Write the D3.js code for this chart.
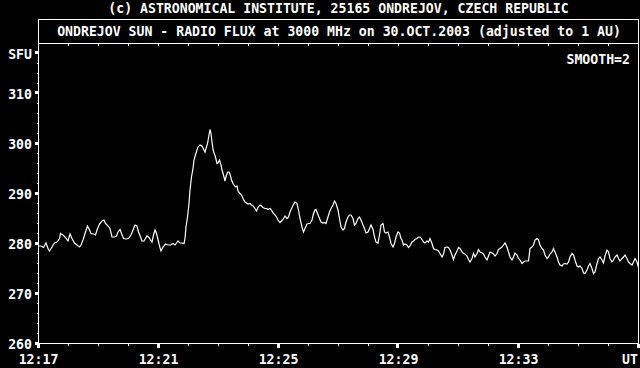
<!DOCTYPE html>
<html><head><meta charset="utf-8">
<script src="https://cdn.jsdelivr.net/npm/d3@7"></script>
<style>html,body{margin:0;padding:0;background:#000;}svg{display:block;}</style>
</head><body>
<svg id="chart" width="640" height="368"></svg>
<script>
const creditText = "(c) ASTRONOMICAL INSTITUTE, 25165 ONDREJOV, CZECH REPUBLIC";
const titleText = "ONDREJOV SUN - RADIO FLUX at 3000 MHz on 30.OCT.2003 (adjusted to 1 AU)";
const noteText = "SMOOTH=2";
const yUnitLabel = "SFU";
const yTickValues = [260, 270, 280, 290, 300, 310];
const xTickSeconds = [0, 240, 480, 720, 960, 1200];
const xTickLabels = ["12:17", "12:21", "12:25", "12:29", "12:33", "UT"];

// seconds after 12:17:00 UT
const seconds = [
0,5,10,15,19,22,27,32,37,42,44,49,53,59,63,67,72,77,82,85,89,93,98,102,105,110,114,117,122,127,131,134,139,143,147,152,156,159,163,166,170,175,180,185,189,193,197,200,204,207,211,214,217,221,224,227,230,233,236,239,242,245,
246,249,254,259,264,269,273,276,279,283,286,291,293,295,298,301,303,306,309,311,314,317,319,323,327,331,333,335,338,341,343,345,347,349,351,354,357,359,362,365,367,370,373,375,378,381,383,386,389,391,394,397,399,403,406,409,413,416,419,423,426,429,433,436,439,443,446,449,453,456,459,463,466,469,473,476,479,483,486,489,
493,497,500,503,507,510,513,517,520,523,527,530,533,537,540,543,547,550,553,555,558,562,565,569,572,575,579,582,585,589,592,595,599,602,605,609,612,615,619,622,625,629,632,635,639,642,645,649,652,655,659,662,665,669,672,675,679,682,685,689,692,695,699,702,705,709,712,715,719,722,725,
727,730,733,737,740,743,747,750,753,757,760,763,767,770,773,777,780,783,787,790,793,797,800,803,807,810,813,817,820,823,827,830,833,837,840,843,847,850,853,857,860,863,867,870,873,877,880,883,887,890,893,897,900,903,907,910,913,917,920,923,927,930,933,937,940,943,947,950,953,957,960,963,
967,970,973,977,980,983,987,990,993,997,1000,1003,1007,1010,1013,1017,1020,1023,1027,1030,1033,1037,1040,1043,1047,1050,1053,1057,1060,1063,1067,1070,1073,1077,1080,1083,1087,1090,1093,1097,1100,1103,1107,1110,1113,1117,1120,1123,1127,1130,1133,1137,1140,1143,1147,1150,1153,1157,1160,1163,1167,1170,1173,1177,1180,1183,1187,1190,1193,1197,1200
];
// radio flux, SFU
const fluxSFU = [
279.5,279.5,279.2,280.1,279.0,278.5,279.3,280.1,280.3,281.0,282.0,281.7,281.3,280.5,281.9,281.0,280.1,279.7,279.3,279.7,280.7,282.0,283.5,282.7,282.0,281.9,281.7,282.7,283.9,284.5,284.7,284.0,283.5,283.0,281.3,281.3,281.5,282.3,282.8,282.0,281.0,280.9,281.0,281.7,282.7,283.7,283.5,282.3,281.3,280.5,280.5,281.0,281.5,281.2,280.7,280.3,281.7,282.7,282.0,280.8,279.5,278.5,
278.7,279.3,279.9,279.7,279.7,280.0,279.7,280.1,280.5,280.1,280.1,280.0,281.0,283.3,285.3,288.0,290.7,293.3,295.0,296.7,297.7,298.7,299.3,299.7,299.5,298.7,298.3,299.0,300.0,301.7,302.8,302.0,300.3,298.8,298.1,297.3,296.0,296.1,296.7,295.7,294.7,293.7,292.5,293.3,294.3,294.3,293.9,292.7,292.0,291.7,291.3,291.5,290.5,290.0,289.7,289.0,288.3,288.1,287.9,288.0,287.7,287.5,287.0,286.5,287.2,287.7,287.5,287.2,287.0,287.0,286.8,287.0,286.7,286.1,285.7,285.3,284.7,284.2,284.5,284.8,
285.5,285.0,285.3,286.3,287.2,287.8,288.3,288.0,286.7,285.0,283.3,282.3,283.0,283.9,284.0,284.0,284.7,286.0,286.7,286.8,286.0,285.0,284.3,284.1,284.2,284.0,285.3,286.3,287.0,287.7,288.5,288.0,286.7,285.0,283.3,282.7,283.0,284.3,285.3,285.7,285.7,285.0,283.7,284.0,285.0,285.3,284.7,283.7,283.0,282.1,282.3,283.0,283.7,282.8,281.3,280.3,280.1,281.7,283.7,284.0,282.3,282.1,282.3,281.3,280.0,279.3,280.0,281.3,282.3,282.1,281.0,
280.7,279.7,279.9,279.7,279.2,279.5,280.3,280.5,280.8,281.0,281.3,281.3,280.8,280.3,280.1,280.5,280.3,281.0,280.0,279.0,278.8,278.7,278.5,278.0,277.3,277.9,279.2,279.3,279.2,278.7,277.7,276.8,277.7,278.5,279.2,279.0,278.3,278.0,277.9,277.5,276.8,276.3,277.0,278.0,277.3,278.0,278.8,278.3,278.1,277.9,277.3,276.7,277.5,278.3,278.1,277.9,277.5,278.0,278.8,279.0,279.3,279.7,280.1,279.3,278.3,277.3,276.7,277.3,278.1,277.7,277.0,276.7,
276.0,276.3,276.5,276.5,276.5,279.0,279.3,279.7,280.7,281.0,280.7,279.7,279.0,278.7,277.7,277.0,277.3,277.9,278.3,279.0,278.3,277.3,276.3,275.7,275.5,275.9,276.0,275.9,276.3,277.3,278.0,277.7,276.7,275.5,275.3,275.5,275.0,274.1,274.0,274.7,275.5,276.0,275.0,274.0,274.3,276.0,277.0,277.3,276.7,276.1,277.5,278.7,278.3,277.0,276.3,276.7,277.3,277.7,277.0,276.5,277.0,277.3,277.7,277.0,276.3,276.0,275.7,276.3,277.0,276.3,275.2
];

const svg = d3.select("#chart");
svg.append("rect").attr("width", 640).attr("height", 368).attr("fill", "#000");

const L = 38.5, R = 638.5, T = 43.5, B = 343.5, boxTop = 19.5;
const x = d3.scaleLinear().domain([0, 1200]).range([L, R]);
const y = d3.scaleLinear().domain([260, 320]).range([B, T]);

const FONT = "'DejaVu Sans Mono', 'Liberation Mono', monospace";
function txt(str, px, py, anchor) {
  svg.append("text")
    .attr("x", px).attr("y", py)
    .attr("text-anchor", anchor)
    .attr("font-family", FONT)
    .attr("font-weight", "bold")
    .attr("font-size", "13.2px")
    .attr("fill", "#fff")
    .text(str);
}

const g = svg.append("g").attr("shape-rendering", "crispEdges").attr("stroke", "#fff").attr("fill", "none");
// frame and title box
g.append("rect").attr("x", L).attr("y", boxTop).attr("width", R - L).attr("height", B - boxTop).attr("stroke-width", 1);
g.append("line").attr("x1", L).attr("x2", R).attr("y1", T).attr("y2", T);

// y ticks
const yMinor = d3.range(262, 320, 2).filter(v => v % 10 !== 0 && v !== 318);
yMinor.forEach(v => g.append("line").attr("x1", L - 2).attr("x2", L).attr("y1", y(v)).attr("y2", y(v)));
yTickValues.concat([318]).forEach(v => {
  svg.append("rect").attr("x", 35).attr("y", Math.round(y(v)) - 2).attr("width", 3).attr("height", 3)
    .attr("fill", "#fff").attr("shape-rendering", "crispEdges");
});

// x ticks
const xMinor = d3.range(0, 1201, 60);
xMinor.forEach(s => {
  g.append("line").attr("x1", x(s)).attr("x2", x(s)).attr("y1", B).attr("y2", B + 2);
  g.append("line").attr("x1", x(s)).attr("x2", x(s)).attr("y1", T).attr("y2", T + 2);
});
xTickSeconds.forEach(s => {
  svg.append("rect").attr("x", Math.round(x(s)) - 2).attr("y", Math.round(B)).attr("width", 3).attr("height", 4)
    .attr("fill", "#fff").attr("shape-rendering", "crispEdges");
});

// data line
const line = d3.line().x((d, i) => x(seconds[i])).y(d => y(d));
svg.append("path").datum(fluxSFU).attr("d", line)
  .attr("fill", "none").attr("stroke", "#fff").attr("stroke-width", 1.2).attr("stroke-linejoin", "miter");

// texts
txt(creditText, 338.5, 12.5, "middle");
txt(titleText, 339, 36, "middle");
txt(noteText, 630, 63.5, "end");
yTickValues.forEach(v => txt(String(v), 32, y(v) + 5, "end"));
txt(yUnitLabel, 32, y(318) + 5, "end");
xTickSeconds.forEach((s, i) => {
  if (i === xTickSeconds.length - 1) txt(xTickLabels[i], 638, 364, "end");
  else txt(xTickLabels[i], x(s), 364, "middle");
});
</script>
</body></html>
